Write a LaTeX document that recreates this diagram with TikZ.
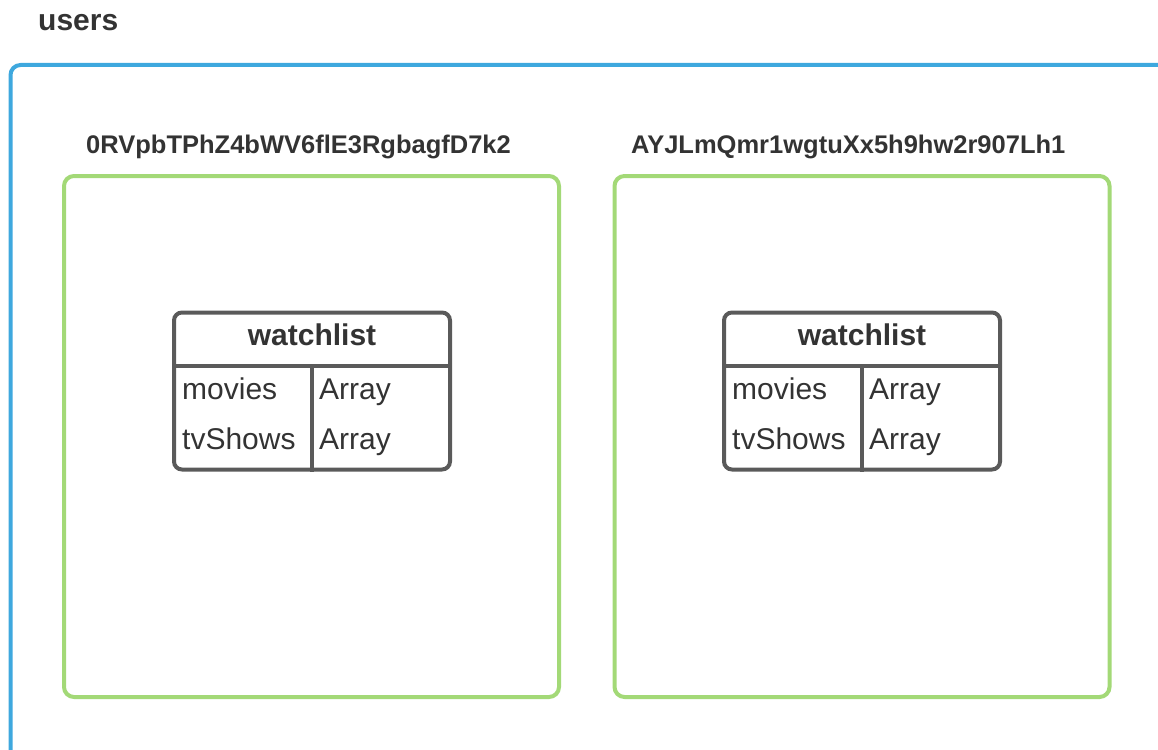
\documentclass[tikz,border=0pt]{standalone}
\usepackage{fontspec}
\setmainfont{Liberation Sans}
\usetikzlibrary{positioning}

\definecolor{usersblue}{RGB}{62,168,222}
\definecolor{docgreen}{RGB}{163,217,119}
\definecolor{tablegray}{RGB}{90,90,90}
\definecolor{textgray}{RGB}{51,51,51}

\begin{document}
\begin{tikzpicture}[x=1pt,y=-1pt,
	coll/.style={draw=usersblue,line width=4pt,rounded corners=10pt,minimum width=1200pt,minimum height=730pt},
	doc/.style={draw=docgreen,line width=4pt,rounded corners=10pt,minimum width=495pt,minimum height=521pt},
	tbl/.style={draw=tablegray,line width=4pt,rounded corners=8pt,minimum width=276pt,minimum height=157pt},
	tline/.style={draw=tablegray,line width=4pt},
	txt/.style={inner sep=0pt,text=textgray,font=\fontsize{30}{36}\selectfont},
	head/.style={txt,font=\bfseries\fontsize{30}{36}\selectfont},
	docid/.style={inner sep=0pt,text=textgray,font=\bfseries\fontsize{25.5}{30}\selectfont}]

	\useasboundingbox (0,0) rectangle (1158,749);
	\clip (0,0) rectangle (1158,749);

	% collection
	\node[head,anchor=base west] (users) at (38,31) {users};
	\node[coll,anchor=north west] (coll) at (8.5,63) {};

	% first document
	\node[docid,anchor=base west] (id1) at (86,153) {0RVpbTPhZ4bWV6flE3RgbagfD7k2};
	\node[doc] (doc1) at (311.5,436.5) {};
	\node[tbl] (tbl1) at (312,391) {};
	\draw[tline] ([yshift=-55pt]tbl1.north west) -- ([yshift=-55pt]tbl1.north east);
	\draw[tline] ([yshift=-55pt]tbl1.north) -- (tbl1.south);
	\node[head,anchor=base] (wl1) at (312,345) {watchlist};
	\node[txt,anchor=base west] (mv1) at (182,399) {movies};
	\node[txt,anchor=base west] (tv1) at (182,449) {tvShows};
	\node[txt,anchor=base west] (mva1) at (319,399) {Array};
	\node[txt,anchor=base west] (tva1) at (319,449) {Array};

	% second document
	\node[docid,anchor=base west] (id2) at (631,153) {AYJLmQmr1wgtuXx5h9hw2r907Lh1};
	\node[doc] (doc2) at (862,436.5) {};
	\node[tbl] (tbl2) at (862,391) {};
	\draw[tline] ([yshift=-55pt]tbl2.north west) -- ([yshift=-55pt]tbl2.north east);
	\draw[tline] ([yshift=-55pt]tbl2.north) -- (tbl2.south);
	\node[head,anchor=base] (wl2) at (862,345) {watchlist};
	\node[txt,anchor=base west] (mv2) at (732,399) {movies};
	\node[txt,anchor=base west] (tv2) at (732,449) {tvShows};
	\node[txt,anchor=base west] (mva2) at (869,399) {Array};
	\node[txt,anchor=base west] (tva2) at (869,449) {Array};
\end{tikzpicture}
\end{document}
